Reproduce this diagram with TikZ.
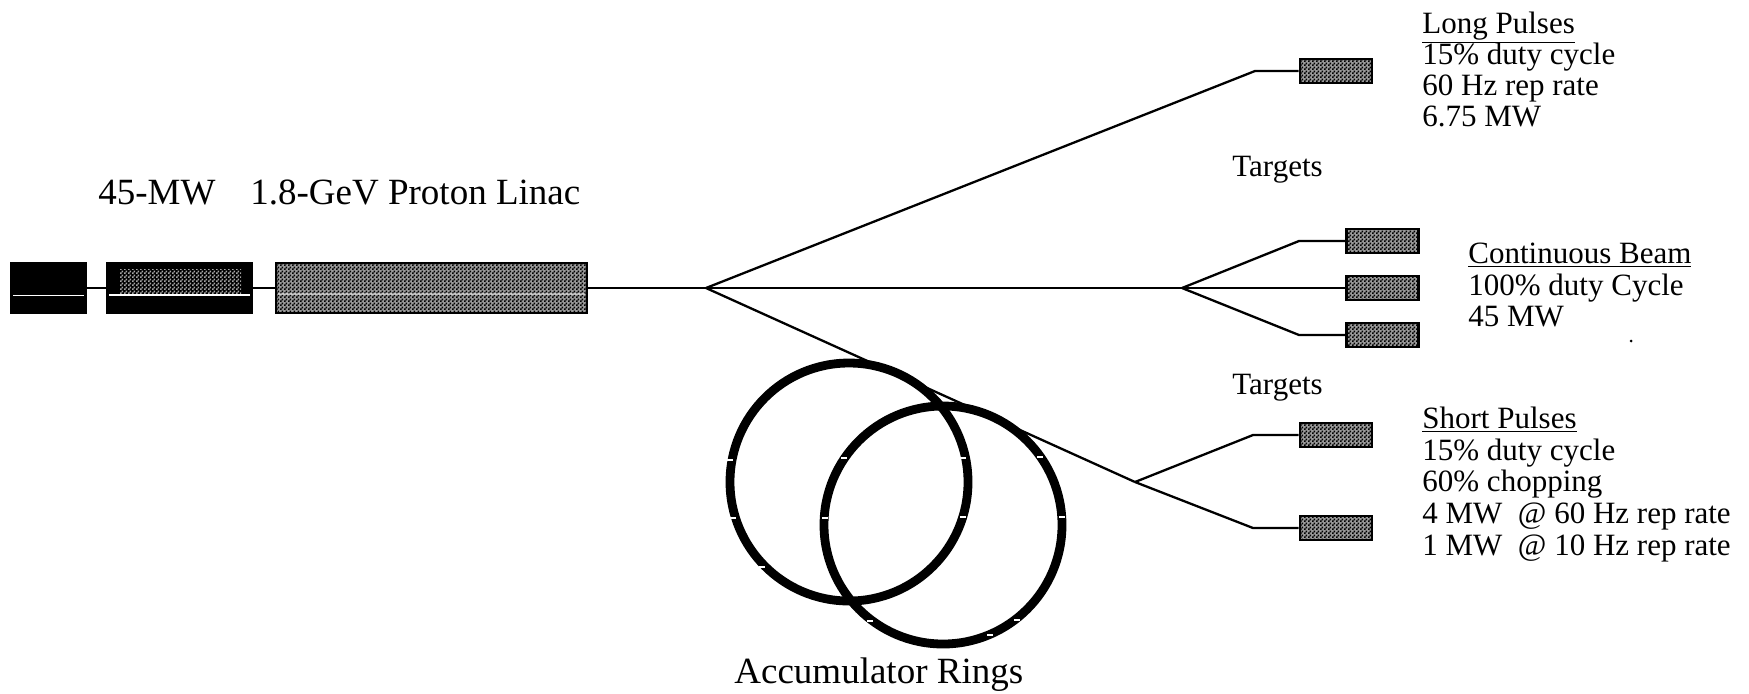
\documentclass[tikz,border=0pt]{standalone}
\usepackage{fontspec}
\setmainfont{Liberation Serif}
\usetikzlibrary{patterns,calc}
\pgfdeclarepatternformonly{checker}{\pgfqpoint{0pt}{0pt}}{\pgfqpoint{2pt}{2pt}}{\pgfqpoint{2pt}{2pt}}{%
  \pgfpathrectangle{\pgfqpoint{0pt}{0pt}}{\pgfqpoint{1pt}{1pt}}%
  \pgfpathrectangle{\pgfqpoint{1pt}{1pt}}{\pgfqpoint{1pt}{1pt}}%
  \pgfusepath{fill}}
\begin{document}
\begin{tikzpicture}[x=0.5pt,y=-0.5pt,
  beam/.style={line width=1.15pt},
  tbox/.style={draw, line width=1.3pt, preaction={fill=black!40}, pattern=checker, pattern color=black,
    minimum width=36pt, minimum height=12pt, inner sep=0pt},
  lbox/.style={draw, line width=1.3pt, fill=black, minimum height=25pt, inner sep=0pt},
  hbox/.style={draw, line width=1.3pt, preaction={fill=black!40}, pattern=checker, pattern color=black,
    minimum height=25pt, inner sep=0pt},
  ring/.style={draw, circle, line width=4.4pt, minimum size=119pt, inner sep=0pt},
  ringmark/.style={white, line width=0.6pt},
  lbl/.style={font=\fontsize{15.5}{16}\selectfont, anchor=base west, inner sep=0pt},
  ttl/.style={font=\fontsize{18.5}{20}\selectfont, anchor=base west, inner sep=0pt}]
\path[use as bounding box, fill=white] (0,0) rectangle (1749,693);

% linac
\node[lbox, minimum width=37.5pt] (b1) at (48.5,288) {};
\node[lbox, minimum width=72.5pt] (b2) at (179.5,288) {};
\node[hbox, minimum width=155.5pt] (b3) at (431.5,288) {};
\fill[pattern=checker, pattern color=black!35] (120,269) rectangle (241,293);
\draw[white, line width=0.7pt] (13,295.5) -- (84,295.5);
\draw[white, line width=0.7pt] (109,295) -- (250,295);
\draw[white, opacity=0.5, line width=0.9pt] (278,294) -- (585,294);

% branch points
\coordinate (S1) at (706,288);
\coordinate (K1) at (1255,71);
\coordinate (S2) at (1182,288);
\coordinate (K2) at (1299,241);
\coordinate (K3) at (1299,335);
\coordinate (S3) at (1135,482);
\coordinate (K4) at (1253,435);
\coordinate (K5) at (1253,528);

% targets
\node[tbox] (tL) at (1336,71) {};
\node[tbox] (tC1) at (1382.5,241) {};
\node[tbox] (tC2) at (1382.5,288) {};
\node[tbox] (tC3) at (1382.5,335) {};
\node[tbox] (tS1) at (1336,435) {};
\node[tbox] (tS2) at (1336,528) {};

% beam lines
\draw[beam] (b1) -- (b2);
\draw[beam] (b2) -- (b3);
\draw[beam] (b3) -- (S1);
\draw[beam] (S1) -- (K1) -- (tL);
\draw[beam] (S1) -- (S2);
\draw[beam] (S2) -- (K2) -- (tC1);
\draw[beam] (S2) -- (tC2);
\draw[beam] (S2) -- (K3) -- (tC3);
\draw[beam] (S1) -- (S3);
\draw[beam] (S3) -- (K4) -- (tS1);
\draw[beam] (S3) -- (K5) -- (tS2);

% accumulator rings
\node[ring] (r1) at (849,482) {};
\node[ring] (r2) at (943,525) {};
\foreach \mx/\my in {730/460, 733/518, 762/567, 963/458, 963/517,
    844/458, 825/518, 870/621, 990/635, 1017/620, 1062/517, 1040/457}
  \draw[ringmark] (\mx-3,\my) -- (\mx+3,\my);

% labels
\node[ttl] (t45) at (98,204) {45-MW};
\node[ttl] (tlin) at (250,204) {1.8-GeV Proton Linac};
\node[ttl] (tacc) at (734,683) {Accumulator Rings};
\node[lbl] (tg1) at (1232,176) {Targets};
\node[lbl] (tg2) at (1232,394) {Targets};

\node[lbl] (lp1) at (1422,33) {\underline{Long Pulses}};
\node[lbl] (lp2) at (1422,64) {15\% duty cycle};
\node[lbl] (lp3) at (1422,95) {60 Hz rep rate};
\node[lbl] (lp4) at (1422,126) {6.75 MW};

\node[lbl] (cb1) at (1468,263) {\underline{Continuous Beam}};
\node[lbl] (cb2) at (1468,295) {100\% duty Cycle};
\node[lbl] (cb3) at (1468,326) {45 MW};

\node[lbl] (sp1) at (1422,428) {\underline{Short Pulses}};
\node[lbl] (sp2) at (1422,460) {15\% duty cycle};
\node[lbl] (sp3) at (1422,491) {60\% chopping};
\node[lbl] (sp4) at (1422,523) {4 MW\ \ @ 60 Hz rep rate};
\node[lbl] (sp5) at (1422,555) {1 MW\ \ @ 10 Hz rep rate};

\fill (1631,341) circle[radius=1.5];
\end{tikzpicture}
\end{document}
